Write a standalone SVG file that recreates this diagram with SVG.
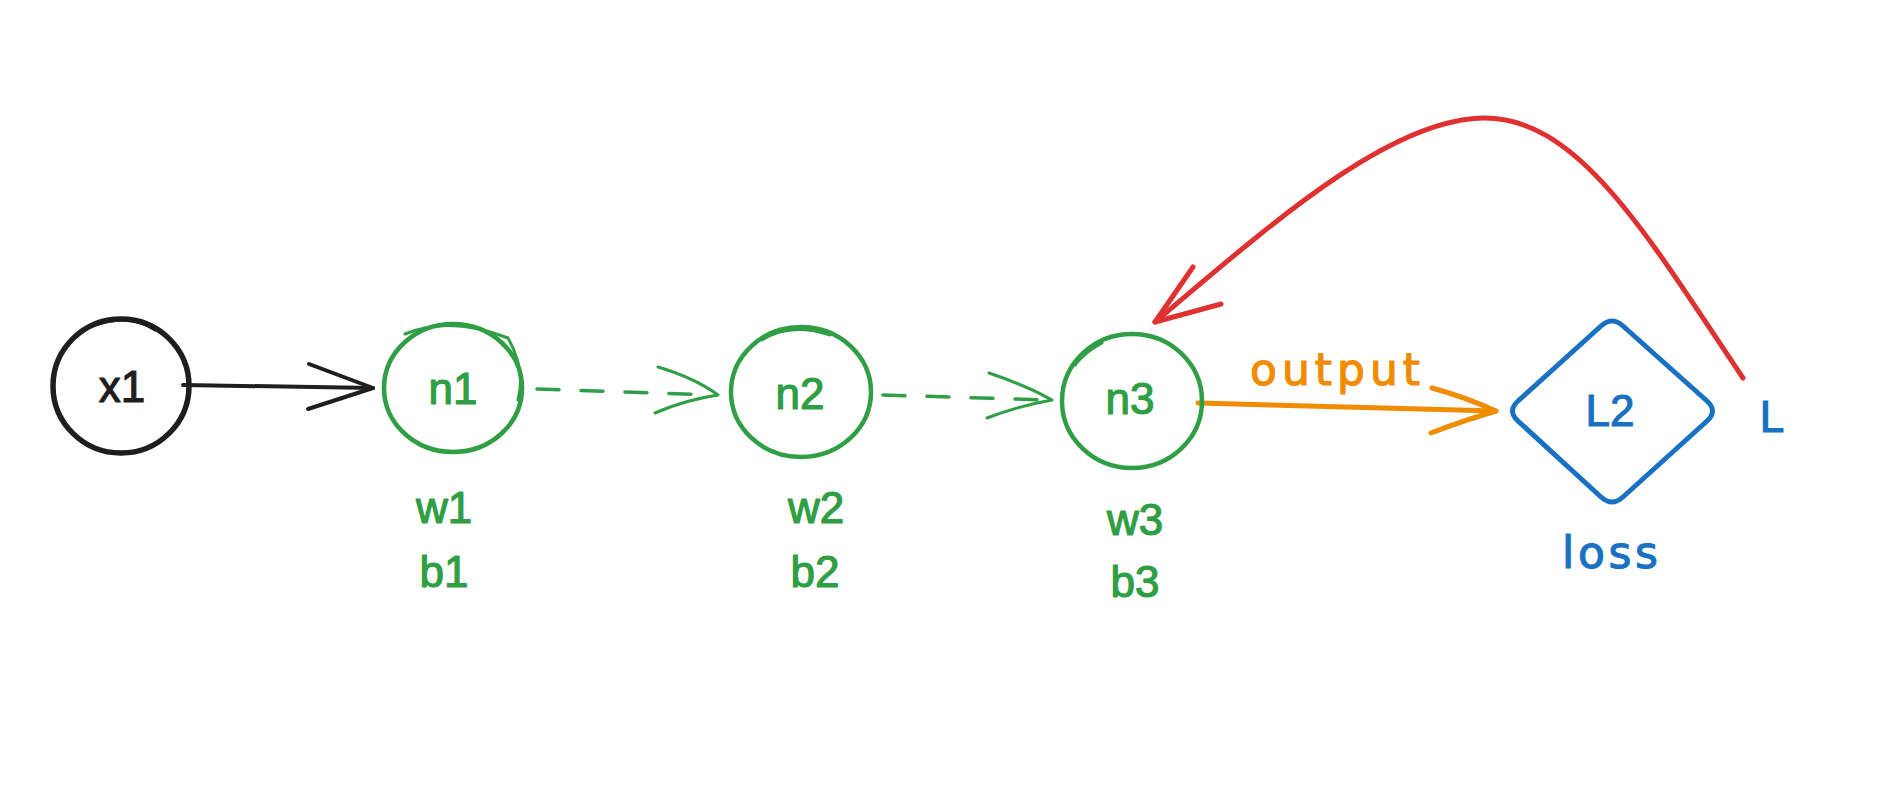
<svg xmlns="http://www.w3.org/2000/svg" width="1890" height="790" viewBox="0 0 1890 790">
  <style>
    text { font-family: "Liberation Sans", Arial, sans-serif; font-size: 44px; text-anchor: middle; stroke-width: 1.2px; stroke-linejoin: round; }
    .wide { font-family: "DejaVu Sans", "Liberation Sans", sans-serif; }
    .blk { stroke: #1e1e1e; }
    .grn { stroke: #2f9e44; }
    .org { stroke: #f08c00; }
    .blu { stroke: #1971c2; }
    .red { stroke: #e03131; }
    .s { fill: none; stroke-linecap: round; stroke-linejoin: round; }
    .tg { fill: #2f9e44; stroke: #2f9e44; }
    .tb { fill: #1971c2; stroke: #1971c2; }
    .tk { fill: #1e1e1e; stroke: #1e1e1e; }
    .to { fill: #f08c00; stroke: #f08c00; }
    .dash { stroke-dasharray: 22 22; }
  </style>
  <rect width="1890" height="790" fill="#ffffff"/>

  <g id="connectors">
    <g id="edge-x1-n1">
      <path class="s blk" stroke-width="4" d="M183,385 L373,388"/>
      <path class="s blk" stroke-width="4" d="M309,364 L373,388 L308,409"/>
    </g>
    <g id="edge-n1-n2">
      <path class="s grn dash" stroke-width="3.5" d="M537,389 L712,395"/>
      <path class="s grn" stroke-width="3" d="M658,367 Q695,378 718,395 M655,413 Q685,400 718,395"/>
    </g>
    <g id="edge-n2-n3">
      <path class="s grn dash" stroke-width="3.5" d="M883,395 L1046,400"/>
      <path class="s grn" stroke-width="3" d="M989,373 Q1025,385 1052,400 M987,418 Q1018,406 1052,400"/>
    </g>
    <g id="edge-n3-L2">
      <path class="s org" stroke-width="5" d="M1198,403 L1496,411"/>
      <path class="s org" stroke-width="5" d="M1432,388 Q1465,397 1496,411 M1431,433 Q1462,421 1496,411"/>
      <text class="to wide" x="1335" y="385" font-size="42" textLength="170" lengthAdjust="spacing">output</text>
    </g>
    <g id="edge-L2-n3">
      <path class="s red" stroke-width="5" d="M1743,378 C1650,240 1580,118 1485,118 C1390,118 1270,225 1155,322"/>
      <path class="s red" stroke-width="5" d="M1193,267 L1155,322 L1221,304"/>
      <text class="tb" x="1772" y="432">L</text>
    </g>
  </g>

  <g id="node-x1">
    <ellipse class="s blk" stroke-width="5.5" cx="121" cy="386" rx="68" ry="67"/>
    <path class="s blk" stroke-width="3" d="M92,326 Q130,312 155,330"/>
    <text class="tk" x="122" y="402">x1</text>
  </g>

  <g id="node-n1">
    <ellipse class="s grn" stroke-width="4.5" cx="453" cy="388" rx="69" ry="64"/>
    <path class="s grn" stroke-width="3" d="M405,334 Q450,315 508,338 Q526,370 518,400"/>
    <text class="tg" x="453" y="404">n1</text>
    <text class="tg" x="444" y="523">w1</text>
    <text class="tg" x="444" y="587">b1</text>
  </g>

  <g id="node-n2">
    <ellipse class="s grn" stroke-width="4.5" cx="801" cy="392" rx="70" ry="65"/>
    <path class="s grn" stroke-width="3" d="M762,340 Q790,322 830,335"/>
    <text class="tg" x="800" y="409">n2</text>
    <text class="tg" x="816" y="523">w2</text>
    <text class="tg" x="815" y="587">b2</text>
  </g>

  <g id="node-n3">
    <ellipse class="s grn" stroke-width="4.5" cx="1132" cy="401" rx="70" ry="67"/>
    <path class="s grn" stroke-width="3" d="M1102,343 Q1085,352 1075,365"/>
    <text class="tg" x="1130" y="414">n3</text>
    <text class="tg" x="1135" y="535">w3</text>
    <text class="tg" x="1135" y="597">b3</text>
  </g>

  <g id="node-L2">
    <path class="s blu" stroke-width="5" d="M1601,326 Q1612,316 1623,326 L1707,401 Q1718,411 1707,421 L1623,497 Q1612,507 1601,497 L1518,421 Q1507,411 1518,401 Z"/>
    <text class="tb" x="1610" y="426">L2</text>
    <text class="tb wide" x="1610" y="568" font-size="46" textLength="96" lengthAdjust="spacing">loss</text>
  </g>
</svg>
